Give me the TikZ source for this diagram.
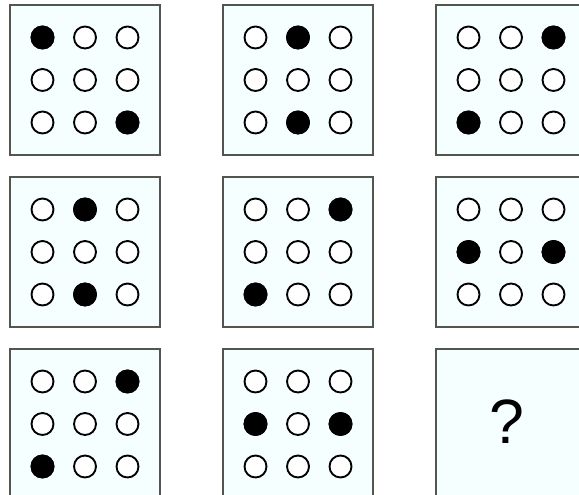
\documentclass[tikz,border=0pt]{standalone}
\usepackage{fontspec}
\setmainfont{Liberation Sans}
\definecolor{panelbg}{RGB}{246,255,255}
\definecolor{panelline}{RGB}{85,85,80}
\usetikzlibrary{positioning, calc}

\begin{document}
\begin{tikzpicture}[
          x=0.75pt, y=-0.75pt,
          panel/.style={
              draw=panelline,
              fill=panelbg,
              line width=1.5pt,
              minimum size=112.5pt,
              inner sep=0pt
            },
          dot/.style={
              circle,
              draw=black,
              fill=white,
              line width=1.4pt,
              minimum size=16.5pt,
              inner sep=0pt
            },
          full/.style={dot, fill=black}
        ]
        \useasboundingbox (0,0) rectangle (579,495);

        \node[panel] (p11) at (85,80) {};
        \node[panel] (p12) at (298,80) {};
        \node[panel] (p13) at (511,80) {};
        \node[panel] (p21) at (85,252) {};
        \node[panel] (p22) at (298,252) {};
        \node[panel] (p23) at (511,252) {};
        \node[panel] (p31) at (85,424) {};
        \node[panel] (p32) at (298,424) {};
        \node[panel] (p33) at (511,424) {};
        \node[font=\fontsize{47}{52}\selectfont, inner sep=0pt] (ask) at (507,422) {?};

        % nine dots per panel, then the black ones on top
        \foreach \p/\marks in {p11/{0/0,2/2}, p12/{1/0,1/2}, p13/{2/0,0/2},
                               p21/{1/0,1/2}, p22/{2/0,0/2}, p23/{0/1,2/1},
                               p31/{2/0,0/2}, p32/{0/1,2/1}} {
            \foreach \i in {0,1,2}
              \foreach \j in {0,1,2}
                \node[dot] (\p-d\i\j) at ($(\p.center)+(\i*42.5-42.5,\j*42.5-42.5)$) {};
            \foreach \i/\j in \marks
              \node[full] at (\p-d\i\j) {};
          }
      \end{tikzpicture}
\end{document}
